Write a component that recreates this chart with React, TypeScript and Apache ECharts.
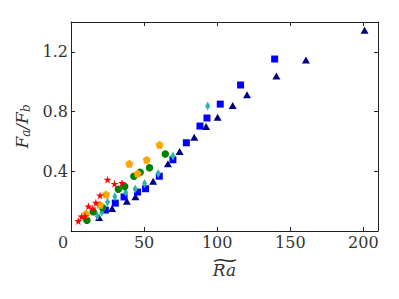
import React, { useEffect, useRef } from 'react';
import * as echarts from 'echarts';

const FONT = 'DejaVu Serif';
const TXT = '#333';

const triX = [19.2, 28.1, 38.2, 44.1, 56.2, 66.3, 74.3, 84.3, 92.4, 100.3, 110.6, 120.4, 140.5, 160.7, 200.8];
const triY = [0.091, 0.150, 0.200, 0.229, 0.333, 0.450, 0.533, 0.628, 0.700, 0.762, 0.840, 0.912, 1.038, 1.145, 1.345];

const sqX = [23.5, 30.3, 36.3, 45.5, 51.0, 60.4, 69.7, 78.9, 88.2, 93.0, 102.1, 116.0, 139.3];
const sqY = [0.140, 0.187, 0.228, 0.261, 0.283, 0.367, 0.477, 0.591, 0.703, 0.757, 0.850, 0.978, 1.152];

const diaX = [18.0, 21.0, 25.0, 30.0, 37.4, 43.9, 50.3, 59.7, 69.7, 93.5];
const diaY = [0.100, 0.125, 0.194, 0.230, 0.260, 0.282, 0.318, 0.386, 0.502, 0.838];

const cirX = [10.9, 15.2, 21.7, 32.4, 36.7, 43.0, 47.3, 53.7, 64.5];
const cirY = [0.072, 0.129, 0.156, 0.280, 0.298, 0.367, 0.393, 0.424, 0.516];

const penX = [10.3, 19.9, 24.0, 39.9, 45.6, 51.8, 60.6];
const penY = [0.116, 0.176, 0.245, 0.451, 0.385, 0.478, 0.578];

const starX = [5.0, 7.2, 9.6, 11.9, 14.9, 17.0, 19.9, 25.0, 29.8, 34.9];
const starY = [0.067, 0.097, 0.100, 0.165, 0.151, 0.189, 0.238, 0.344, 0.316, 0.322];

const xTicks = [0, 50, 100, 150, 200];
const yTicks = [0.4, 0.8, 1.2];

const STAR = 'path://M50,0 L61,35 L98,35 L68,57 L79,91 L50,70 L21,91 L32,57 L2,35 L39,35 Z';
const PENT = 'path://M50,0 L97.6,34.5 L79.4,90.5 L20.6,90.5 L2.4,34.5 Z';

const zip = (xs: number[], ys: number[]) => xs.map((x, i) => [x, ys[i]]);

export default function App() {
  const ref = useRef<HTMLDivElement>(null);
  useEffect(() => {
    if (!ref.current) return;
    const chart = echarts.init(ref.current, null, { renderer: 'svg' });
    const axisCommon = {
      type: 'value' as const,
      axisLine: { show: true, onZero: false, lineStyle: { color: '#222', width: 1 } },
      axisTick: { show: true, inside: true, length: 4, lineStyle: { color: '#222', width: 1 } },
      splitLine: { show: false },
    };
    const mk = (name: string, xs: number[], ys: number[], symbol: string, size: any, color: string) => ({
      type: 'scatter',
      name,
      data: zip(xs, ys),
      symbol,
      symbolSize: size,
      itemStyle: { color, opacity: 1 },
    });
    chart.setOption({
      animation: false,
      textStyle: { fontFamily: FONT },
      grid: { left: 71, right: 21, top: 22, bottom: 68 },
      xAxis: [
        {
          ...axisCommon,
          position: 'bottom',
          min: 0,
          max: 210,
          interval: 50,
          axisLabel: {
            showMaxLabel: false,
            margin: 3,
            color: TXT,
            fontFamily: FONT,
            fontSize: 16,
            formatter: (v: number) => (xTicks.includes(v) ? (v === 0 ? '{z|0}' : String(v)) : ''),
            rich: { z: { padding: [0, 16, 0, 0], fontFamily: FONT, fontSize: 16, color: TXT } },
          },
          name: 'Ra',
          nameLocation: 'middle',
          nameGap: 30,
          nameTextStyle: { fontFamily: FONT, fontStyle: 'italic', fontSize: 17, color: TXT },
        },
        {
          ...axisCommon,
          position: 'top',
          min: 0,
          max: 210,
          interval: 50,
          axisLabel: { show: false },
        },
      ],
      yAxis: [
        {
          ...axisCommon,
          position: 'left',
          min: 0,
          max: 1.4,
          interval: 0.4,
          axisLabel: {
            showMaxLabel: false,
            margin: 3,
            color: TXT,
            fontFamily: FONT,
            fontSize: 16,
            formatter: (v: number) => (yTicks.some((t) => Math.abs(t - v) < 1e-6) ? v.toFixed(1) : ''),
          },
          name: '{i|F}{s|a}{i|/F}{s|b}',
          nameLocation: 'middle',
          nameGap: 31,
          nameTextStyle: {
            fontFamily: FONT,
            fontStyle: 'italic',
            fontSize: 17,
            color: TXT,
            rich: {
              i: { fontFamily: FONT, fontStyle: 'italic', fontSize: 17, color: TXT },
              s: { fontFamily: FONT, fontStyle: 'italic', fontSize: 12, color: TXT, verticalAlign: 'bottom', padding: [8, 0, 0, 0] },
            },
          },
        },
        {
          ...axisCommon,
          position: 'right',
          min: 0,
          max: 1.4,
          interval: 0.4,
          axisLabel: { show: false },
        },
      ],
      graphic: [
        {
          type: 'text',
          x: 225,
          y: 260,
          scaleX: 2.2,
          scaleY: 1.2,
          style: { text: '~', fontFamily: FONT, fontSize: 16, fill: TXT, textAlign: 'center', textVerticalAlign: 'middle' },
        },
      ],
      series: [
        mk('tri', triX, triY, 'triangle', [8, 7], '#000080'),
        mk('sq', sqX, sqY, 'rect', 7, '#0000ff'),
        mk('dia', diaX, diaY, 'diamond', [5, 9], '#2eb5aa'),
        mk('cir', cirX, cirY, 'circle', 7.5, '#008000'),
        mk('pen', penX, penY, PENT, 8, '#ffa500'),
        mk('star', starX, starY, STAR, 8, '#ff0000'),
      ],
    });
    return () => chart.dispose();
  }, []);
  return <div ref={ref} style={{ position: 'fixed', left: 0, top: 0, width: 399, height: 299, background: '#fff' }} />;
}
